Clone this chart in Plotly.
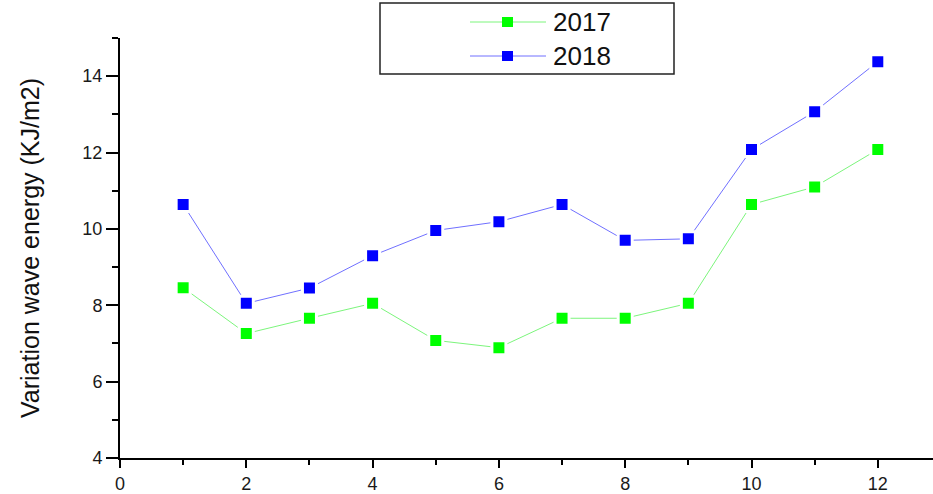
import plotly.graph_objects as go

# Monthly variation of wave energy
months = [1, 2, 3, 4, 5, 6, 7, 8, 9, 10, 11, 12]
energy_2017 = [8.46, 7.26, 7.66, 8.05, 7.08, 6.89, 7.66, 7.66, 8.05, 10.64, 11.10, 12.08]
energy_2018 = [10.64, 8.05, 8.45, 9.30, 9.96, 10.19, 10.64, 9.70, 9.74, 12.08, 13.07, 14.38]
series_names = ["2017", "2018"]
x_ticks = [0, 2, 4, 6, 8, 10, 12]
y_ticks = [4, 6, 8, 10, 12, 14]

GREEN = "#00FF00"
BLUE = "#0000FF"
W, H = 933, 494
M_L, M_R, M_T, M_B = 120, 0, 38, 36
PW, PH = W - M_L - M_R, H - M_T - M_B


def px_x(p):
    return (p - M_L) / PW


def px_y(p):
    return (H - M_B - p) / PH


fig = go.Figure()
for name, vals, col, lcol in [
    (series_names[0], energy_2017, GREEN, "#7CF57C"),
    (series_names[1], energy_2018, BLUE, "#7070FF"),
]:
    fig.add_trace(go.Scatter(
        x=months, y=vals, name=name, mode="lines+markers",
        line=dict(color=lcol, width=1),
        marker=dict(symbol="square", size=14, color=col,
                    line=dict(color="white", width=3)),
        showlegend=False,
    ))

# Boxed legend drawn at the top of the chart
shapes = [dict(type="rect", xref="paper", yref="paper",
               x0=px_x(380), x1=px_x(674), y0=px_y(74), y1=px_y(3),
               line=dict(color="#222222", width=1.5), fillcolor="white")]
annotations = []
for name, col, lcol, row_y in [
    (series_names[0], GREEN, "#7CF57C", 22),
    (series_names[1], BLUE, "#7070FF", 56),
]:
    shapes.append(dict(type="line", xref="paper", yref="paper",
                       x0=px_x(470), x1=px_x(546), y0=px_y(row_y), y1=px_y(row_y),
                       line=dict(color=lcol, width=1)))
    shapes.append(dict(type="rect", xref="paper", yref="paper",
                       x0=px_x(502), x1=px_x(513), y0=px_y(row_y + 5), y1=px_y(row_y - 5),
                       line=dict(width=0), fillcolor=col))
    annotations.append(dict(xref="paper", yref="paper", x=px_x(551), y=px_y(row_y),
                            text=name, showarrow=False, xanchor="left", yanchor="middle",
                            font=dict(size=26, color="#111111",
                                      family="Liberation Sans, Arial, sans-serif")))

fig.update_layout(
    width=W, height=H,
    margin=dict(l=M_L, r=M_R, t=M_T, b=M_B),
    paper_bgcolor="white", plot_bgcolor="white",
    font=dict(family="Liberation Sans, Arial, sans-serif", color="#222222"),
    shapes=shapes, annotations=annotations,
    xaxis=dict(
        range=[0, PW / 63.15], tickvals=x_ticks, ticks="outside", ticklen=8,
        tickwidth=2, tickcolor="black", showline=True, linecolor="black",
        linewidth=2, showgrid=False, zeroline=False,
        tickfont=dict(size=18, color="#1a1a1a"),
        minor=dict(dtick=1, ticks="outside", ticklen=5, tickwidth=2,
                   tickcolor="black", showgrid=False),
    ),
    yaxis=dict(
        range=[4, 15], tickvals=y_ticks, ticks="outside", ticklen=12,
        tickwidth=2, tickcolor="black", showline=True, linecolor="black",
        linewidth=2, showgrid=False, zeroline=False,
        tickfont=dict(size=18, color="#1a1a1a"),
        title=dict(text="Variation wave energy (KJ/m2)",
                   font=dict(size=25, color="#111111"), standoff=36),
        minor=dict(dtick=1, ticks="outside", ticklen=6, tickwidth=2,
                   tickcolor="black", showgrid=False),
    ),
)

fig.write_html("out.html")
